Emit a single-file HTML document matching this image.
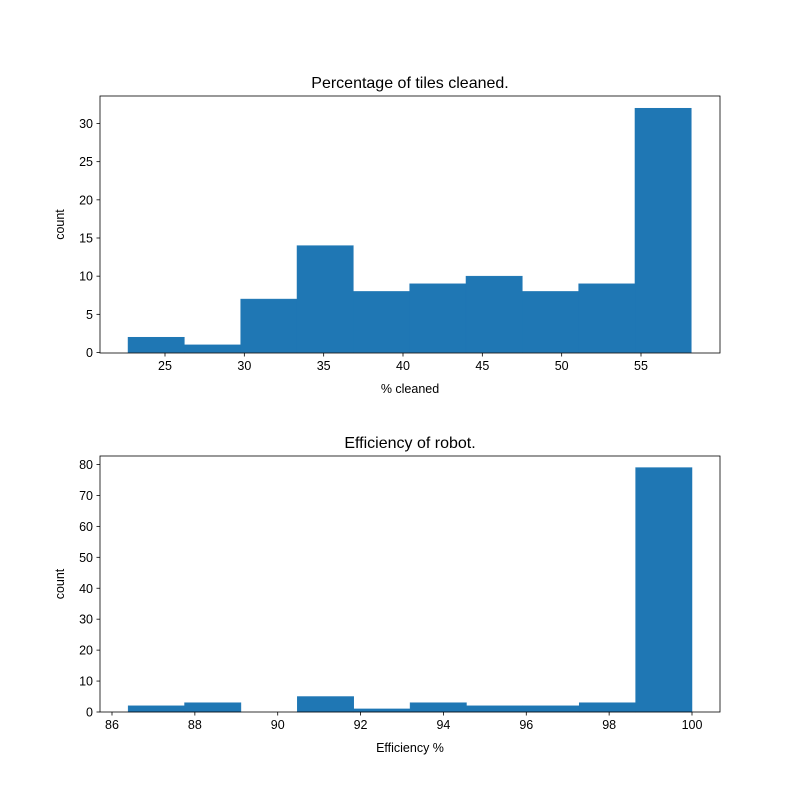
<!DOCTYPE html>
<html><head><meta charset="utf-8"><style>
body{margin:0;background:#fff;}
svg text{font-family:"Liberation Sans","DejaVu Sans",sans-serif;fill:#000;}
</style></head><body>
<svg id="chart" width="800" height="800" viewBox="0 0 800 800" xmlns="http://www.w3.org/2000/svg">
<rect width="800" height="800" fill="#fff"/>
</svg>
<script>
const topCounts=[2,1,7,14,8,9,10,8,9,32];
const topRange=[22.67,58.17];
const topXTicks=[25,30,35,40,45,50,55];
const topYTicks=[0,5,10,15,20,25,30];
const botCounts=[2,3,0,5,1,3,2,2,3,79];
const botRange=[86.39,100];
const botXTicks=[86,88,90,92,94,96,98,100];
const botYTicks=[0,10,20,30,40,50,60,70,80];
const NS="http://www.w3.org/2000/svg";
const svg=document.getElementById('chart');
function mk(tag,attrs,parent){const e=document.createElementNS(NS,tag);for(const k in attrs)e.setAttribute(k,attrs[k]);(parent||svg).appendChild(e);return e;}
function panel(cfg){
  const g=mk('g',{});
  
  
  const x=v=>cfg.x0+(v-cfg.d0)/(cfg.d1-cfg.d0)*(cfg.x1-cfg.x0);
  const y=v=>cfg.y0-(v-0)/cfg.ymax*(cfg.y0-cfg.ymaxPx);
  const n=cfg.counts.length,w=(cfg.range[1]-cfg.range[0])/n;
  cfg.counts.forEach((c,i)=>{
    const a=x(cfg.range[0]+i*w),b=x(cfg.range[0]+(i+1)*w);
    const r=mk('rect',{x:a,y:y(c),width:b-a,height:y(0)-y(c),fill:'#1f77b4',stroke:'#1f77b4','stroke-width':0.5},g);
    
    
  });
  const f=mk('rect',{x:cfg.L,y:cfg.T,width:cfg.R-cfg.L,height:cfg.B-cfg.T,fill:'none',stroke:'#000','stroke-width':0.8},g);
  
  
  cfg.xticks.forEach(t=>{
    const px=x(t);
    mk('line',{x1:px,x2:px,y1:cfg.B,y2:cfg.B+3.5,stroke:'#000','stroke-width':0.8},g);
    const tx=mk('text',{x:px,y:cfg.B+17,'font-size':12.5,'text-anchor':'middle'},g);tx.textContent=t;
    
    
  });
  cfg.yticks.forEach(t=>{
    const py=y(t);
    mk('line',{x1:cfg.L,x2:cfg.L-3.5,y1:py,y2:py,stroke:'#000','stroke-width':0.8},g);
    const tx=mk('text',{x:cfg.L-7,y:py+4.5,'font-size':12.5,'text-anchor':'end'},g);tx.textContent=t;
    
    
  });
  const ti=mk('text',{x:(cfg.L+cfg.R)/2,y:cfg.T-8,'font-size':16,'text-anchor':'middle'},g);ti.textContent=cfg.title;
  
  
  const xl=mk('text',{x:(cfg.L+cfg.R)/2,y:cfg.B+40,'font-size':12.5,'text-anchor':'middle'},g);xl.textContent=cfg.xlabel;
  
  
  const cy=(cfg.T+cfg.B)/2;
  const yl=mk('text',{x:64,y:cy,'font-size':12.5,'text-anchor':'middle',transform:'rotate(-90 64 '+cy+')'},g);yl.textContent='count';
  
  
}
panel({name:'cleaned-histogram',counts:topCounts,range:topRange,xticks:topXTicks,yticks:topYTicks,
  x0:165,x1:641,d0:25,d1:55,y0:352.5,ymaxPx:123.5,ymax:30,L:100,R:720,T:96,B:353,
  title:'Percentage of tiles cleaned.',xlabel:'% cleaned'});
panel({name:'efficiency-histogram',counts:botCounts,range:botRange,xticks:botXTicks,yticks:botYTicks,
  x0:112,x1:692,d0:86,d1:100,y0:712,ymaxPx:464.5,ymax:80,L:100,R:720,T:456,B:712,
  title:'Efficiency of robot.',xlabel:'Efficiency %'});
</script>
</body></html>
